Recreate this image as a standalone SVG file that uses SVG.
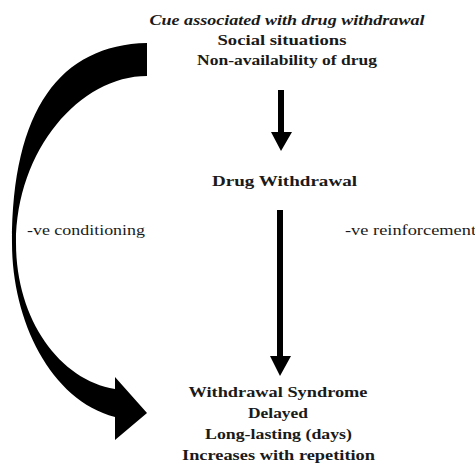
<svg xmlns="http://www.w3.org/2000/svg" width="475" height="468" viewBox="0 0 475 468">
<style>
text{fill:#1a1a1a;font-size:15px}
.b{font-weight:bold}
.bi{font-weight:bold;font-style:italic}
.arr{fill:#000}
</style>
<rect width="475" height="468" fill="#fff"/>
<g id="connectors">
<path id="curved-arrow" class="arr" d="M147,43 C60,45 12,110 12,243 C12,320 50,400 115,417 L115,440 L147,413 L115,377 L115,389 C60,380 16,320 16,243 C16,150 80,76 147,76 Z"/>
<path id="arrow-cue-drug" class="arr" d="M278,90 L284,90 L284,132 L292,132 L281,151 L271,132 L278,132 Z"/>
<path id="arrow-drug-syndrome" class="arr" d="M277,210 L283,210 L283,356 L291,356 L280,376 L270,356 L277,356 Z"/>
</g>
<g font-family="Liberation Serif, Times New Roman, Times, serif">
<g id="node-cue">
<text class="bi" x="287" y="25" text-anchor="middle" textLength="275" lengthAdjust="spacingAndGlyphs">Cue associated with drug withdrawal</text>
<text class="b" x="282" y="45" text-anchor="middle" textLength="129" lengthAdjust="spacingAndGlyphs">Social situations</text>
<text class="b" x="287" y="65" text-anchor="middle" textLength="180" lengthAdjust="spacingAndGlyphs">Non-availability of drug</text>
</g>
<g id="node-drug-withdrawal">
<text class="b" x="284.5" y="186" text-anchor="middle" textLength="145" lengthAdjust="spacingAndGlyphs">Drug Withdrawal</text>
</g>
<g id="node-syndrome">
<text class="b" x="278" y="397" text-anchor="middle" textLength="179" lengthAdjust="spacingAndGlyphs">Withdrawal Syndrome</text>
<text class="b" x="278" y="418" text-anchor="middle" textLength="60" lengthAdjust="spacingAndGlyphs">Delayed</text>
<text class="b" x="278.5" y="439" text-anchor="middle" textLength="147" lengthAdjust="spacingAndGlyphs">Long-lasting (days)</text>
<text class="b" x="278.5" y="460" text-anchor="middle" textLength="193" lengthAdjust="spacingAndGlyphs">Increases with repetition</text>
</g>
<g id="labels">
<text x="27" y="235" textLength="118" lengthAdjust="spacingAndGlyphs">-ve conditioning</text>
<text x="345" y="235" textLength="131" lengthAdjust="spacingAndGlyphs">-ve reinforcement</text>
</g>
</g>
</svg>
